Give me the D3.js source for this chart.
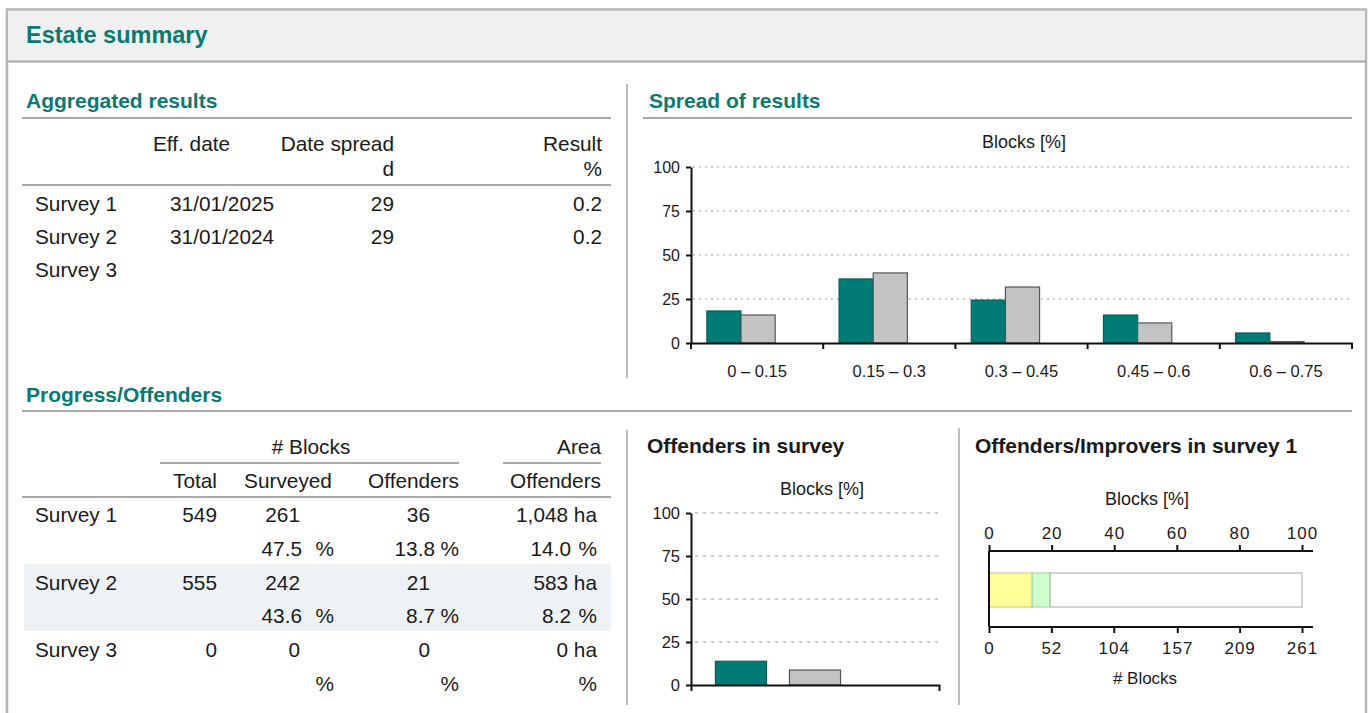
<!DOCTYPE html>
<html>
<head>
<meta charset="utf-8">
<script src="https://cdn.jsdelivr.net/npm/d3@7/dist/d3.min.js"></script>
<style>
  html, body { margin: 0; padding: 0; background: #fff; }
  svg { display: block; font-family: "Liberation Sans", Arial, sans-serif; }
  .body { font-size: 20.8px; fill: #1a1a1a; }
  .sec { font-size: 21px; font-weight: bold; fill: #0a7a70; }
  .ctitle { font-size: 21px; font-weight: bold; fill: #1a1a1a; }
  .axis text { font-family: "Liberation Sans", Arial, sans-serif; fill: #1a1a1a; }
</style>
</head>
<body>
<svg id="chart" width="1370" height="713"></svg>
<script>
// ---------------- DATA ----------------
const surveys = ["Survey 1", "Survey 2", "Survey 3"];
const effDates = ["31/01/2025", "31/01/2024", ""];
const dateSpread = [29, 29, null];
const results = [0.2, 0.2, null];

const spreadCategories = ["0 – 0.15", "0.15 – 0.3", "0.3 – 0.45", "0.45 – 0.6", "0.6 – 0.75"];
const spreadSurvey1 = [18.2, 36.4, 24.4, 15.9, 5.7];
const spreadSurvey2 = [15.9, 39.8, 31.8, 11.4, 0.8];
const spreadSurvey3 = [null, null, null, null, null];
const percentTicks = [0, 25, 50, 75, 100];

const totalBlocks = [549, 555, 0];
const surveyedBlocks = [261, 242, 0];
const surveyedPct = [47.5, 43.6, null];
const offenderBlocks = [36, 21, 0];
const offenderPct = [13.8, 8.7, null];
const offenderAreaHa = [1048, 583, 0];
const offenderAreaPct = [14.0, 8.2, null];

const offendersInSurvey = [13.8, 8.7, 0];

const stackSegments = ["Offenders", "Improvers", "Others"];
const stackBlocks = [36, 15, 210];
const stackTotal = 261;
const topTicks = [0, 20, 40, 60, 80, 100];
const bottomTickLabels = [0, 52, 104, 157, 209, 261];

// ---------------- STYLE ----------------
const TEAL = "#0a7a70";
const BAR_TEAL = "#007b75";
const BAR_GRAY = "#c3c3c3";
const LINE = "#a9a9a9";
const seriesFill = [BAR_TEAL, BAR_GRAY, "#ffffff"];
const stackFill = ["#ffff99", "#ccffcc", "#ffffff"];
const stackStroke = ["#c8c870", "#9ccf9c", "#a8a8a8"];

const svg = d3.select("#chart");

// frame & header
svg.append("rect").attr("x", 7).attr("y", 9.5).attr("width", 1359).attr("height", 720)
  .attr("fill", "#fff").attr("stroke", "#b5b5b5").attr("stroke-width", 2.5);
svg.append("rect").attr("x", 8).attr("y", 11).attr("width", 1357).attr("height", 50).attr("fill", "#f0f0f0");
svg.append("line").attr("x1", 8).attr("x2", 1366).attr("y1", 61.5).attr("y2", 61.5)
  .attr("stroke", "#a5a5a5").attr("stroke-width", 2);
svg.append("text").attr("x", 26).attr("y", 43).attr("fill", TEAL)
  .style("font-size", "23.5px").style("font-weight", "bold").text("Estate summary");

function hline(x1, x2, y) {
  svg.append("line").attr("x1", x1).attr("x2", x2).attr("y1", y).attr("y2", y)
    .attr("stroke", LINE).attr("stroke-width", 2);
}
function vline(x, y1, y2) {
  svg.append("line").attr("x1", x).attr("x2", x).attr("y1", y1).attr("y2", y2)
    .attr("stroke", "#bdbdbd").attr("stroke-width", 2);
}
function txt(x, y, s, anchor, cls) {
  return svg.append("text").attr("x", x).attr("y", y).attr("class", cls || "body")
    .attr("text-anchor", anchor || "start").text(s);
}

// ---------------- Aggregated results ----------------
txt(26, 108, "Aggregated results", "start", "sec");
hline(22, 611, 118);
txt(153, 151, "Eff. date");
txt(394, 151, "Date spread", "end");
txt(602, 151, "Result", "end");
txt(394, 176, "d", "end");
txt(602, 176, "%", "end");
hline(22, 611, 185);
const aggRowY = [211, 244, 277];
surveys.forEach((s, i) => {
  txt(35, aggRowY[i], s);
  if (effDates[i]) txt(170, aggRowY[i], effDates[i]);
  if (dateSpread[i] != null) txt(394, aggRowY[i], dateSpread[i], "end");
  if (results[i] != null) txt(602, aggRowY[i], d3.format(".1f")(results[i]), "end");
});
vline(627, 84, 378);

// ---------------- Spread of results ----------------
txt(649, 108, "Spread of results", "start", "sec");
hline(643, 1352, 118);
{
  const x0 = d3.scaleBand().domain(spreadCategories).range([691, 1352]);
  const bw = x0.bandwidth();
  const x1 = d3.scaleBand().domain(surveys).range([bw * 0.12, bw * 0.895]);
  const y = d3.scaleLinear().domain([0, 100]).range([343, 167]);
  const g = svg.append("g");
  svg.append("text").attr("x", 1024).attr("y", 148).attr("text-anchor", "middle")
    .style("font-size", "18px").attr("fill", "#1a1a1a").text("Blocks [%]");
  // gridlines
  g.selectAll(".grid").data(percentTicks.filter(d => d > 0)).enter().append("line")
    .attr("x1", 693).attr("x2", 1352).attr("y1", d => y(d)).attr("y2", d => y(d))
    .attr("stroke", "#9a9a9a").attr("stroke-width", 1.2).attr("stroke-dasharray", "2,4");
  // bars
  const series = [spreadSurvey1, spreadSurvey2, spreadSurvey3];
  series.forEach((vals, si) => {
    g.selectAll(".b" + si).data(vals.map((v, ci) => ({ v, c: spreadCategories[ci] })).filter(d => d.v != null))
      .enter().append("rect")
      .attr("x", d => x0(d.c) + x1(surveys[si]))
      .attr("width", x1.bandwidth())
      .attr("y", d => y(d.v))
      .attr("height", d => y(0) - y(d.v))
      .attr("fill", seriesFill[si])
      .attr("stroke", si === 0 ? "#0b5e58" : "#555").attr("stroke-width", 1.2);
  });
  // y axis
  const ya = g.append("g").attr("class", "axis").attr("transform", "translate(691,0)")
    .call(d3.axisLeft(y).tickValues(percentTicks).tickSize(5).tickSizeOuter(0).tickPadding(6));
  ya.selectAll("text").style("font-size", "16px");
  ya.selectAll("line,path").attr("stroke", "#111").attr("stroke-width", 2);
  // x axis
  const xa = g.append("g").attr("class", "axis").attr("transform", "translate(0,343)")
    .call(d3.axisBottom(x0).tickSize(0).tickSizeOuter(0).tickPadding(22));
  xa.selectAll("text").style("font-size", "16.5px");
  xa.select("path").attr("stroke", "#111").attr("stroke-width", 2);
  const bounds = spreadCategories.map(c => x0(c)).concat([x0.range()[1]]);
  g.selectAll(".xt").data(bounds).enter().append("line")
    .attr("x1", d => d).attr("x2", d => d).attr("y1", 343).attr("y2", 349)
    .attr("stroke", "#111").attr("stroke-width", 2);
}

// ---------------- Progress/Offenders ----------------
txt(26, 402, "Progress/Offenders", "start", "sec");
hline(22, 1352, 411);
txt(311, 454, "# Blocks", "middle");
hline(160, 459, 463);
txt(601, 454, "Area", "end");
hline(503, 601, 463);
txt(217, 488, "Total", "end");
txt(288, 488, "Surveyed", "middle");
txt(459, 488, "Offenders", "end");
txt(601, 488, "Offenders", "end");
hline(22, 611, 497);
svg.insert("rect", "text").attr("x", 24).attr("y", 564).attr("width", 587).attr("height", 67).attr("fill", "#eef2f5");
const rowY = [522, 590, 657];
const pctY = [556, 623, 691];
const f1 = d3.format(".1f");
surveys.forEach((s, i) => {
  txt(35, rowY[i], s);
  txt(217, rowY[i], totalBlocks[i], "end");
  txt(300, rowY[i], surveyedBlocks[i], "end");
  txt(430, rowY[i], offenderBlocks[i], "end");
  txt(597, rowY[i], d3.format(",")(offenderAreaHa[i]) + " ha", "end");
  if (surveyedPct[i] != null) txt(302, pctY[i], f1(surveyedPct[i]), "end");
  txt(334, pctY[i], "%", "end");
  if (offenderPct[i] != null) txt(435, pctY[i], f1(offenderPct[i]), "end");
  txt(459, pctY[i], "%", "end");
  if (offenderAreaPct[i] != null) txt(571, pctY[i], f1(offenderAreaPct[i]), "end");
  txt(597, pctY[i], "%", "end");
});
vline(627, 430, 705);
vline(959, 428, 705);

// ---------------- Offenders in survey ----------------
txt(647, 453, "Offenders in survey", "start", "ctitle");
{
  const y = d3.scaleLinear().domain([0, 100]).range([685, 513]);
  const x = d3.scaleBand().domain(surveys).range([691, 939]).paddingInner(0.31).paddingOuter(0.33);
  const g = svg.append("g");
  svg.append("text").attr("x", 822).attr("y", 495).attr("text-anchor", "middle")
    .style("font-size", "18px").attr("fill", "#1a1a1a").text("Blocks [%]");
  g.selectAll(".grid").data(percentTicks.filter(d => d > 0)).enter().append("line")
    .attr("x1", 695).attr("x2", 939).attr("y1", d => y(d)).attr("y2", d => y(d))
    .attr("stroke", "#9a9a9a").attr("stroke-width", 1.2).attr("stroke-dasharray", "3,5");
  g.selectAll(".bar").data(offendersInSurvey.map((v, i) => ({ v, s: surveys[i] })).filter(d => d.v > 0))
    .enter().append("rect")
    .attr("x", d => x(d.s)).attr("width", x.bandwidth())
    .attr("y", d => y(d.v)).attr("height", d => y(0) - y(d.v))
    .attr("fill", (d, i) => seriesFill[i])
    .attr("stroke", (d, i) => i === 0 ? "#0b5e58" : "#555").attr("stroke-width", 1.2);
  const ya = g.append("g").attr("class", "axis").attr("transform", "translate(691,0)")
    .call(d3.axisLeft(y).tickValues(percentTicks).tickSize(5).tickSizeOuter(0).tickPadding(6));
  ya.selectAll("text").style("font-size", "16.5px");
  ya.selectAll("line,path").attr("stroke", "#111").attr("stroke-width", 2);
  const xa = g.append("g").attr("class", "axis").attr("transform", "translate(0,685)")
    .call(d3.axisBottom(x).tickValues([]).tickSizeOuter(6));
  xa.select("path").attr("stroke", "#111").attr("stroke-width", 2);
}

// ---------------- Offenders/Improvers in survey 1 ----------------
txt(975, 453, "Offenders/Improvers in survey 1", "start", "ctitle");
{
  const xp = d3.scaleLinear().domain([0, 100]).range([989, 1302]);
  const xb = d3.scaleLinear().domain([0, stackTotal]).range([989, 1302]);
  const g = svg.append("g");
  svg.append("text").attr("x", 1147).attr("y", 505).attr("text-anchor", "middle")
    .style("font-size", "18px").attr("fill", "#1a1a1a").text("Blocks [%]");
  // stacked bar
  let acc = 0;
  const segs = stackBlocks.map((v, i) => { const s = { i, x0: acc, x1: acc + v }; acc += v; return s; });
  g.selectAll(".seg").data(segs).enter().append("rect")
    .attr("x", d => xb(d.x0)).attr("width", d => xb(d.x1) - xb(d.x0))
    .attr("y", 573).attr("height", 34)
    .attr("fill", d => stackFill[d.i]).attr("stroke", d => stackStroke[d.i]).attr("stroke-width", 1);
  // top axis
  const ta = g.append("g").attr("class", "axis").attr("transform", "translate(0,551)")
    .call(d3.axisTop(xp).tickValues(topTicks).tickSize(6).tickSizeOuter(0).tickPadding(6));
  ta.selectAll("text").style("font-size", "17px").style("letter-spacing", "1px");
  ta.selectAll("line").attr("stroke", "#111").attr("stroke-width", 2);
  ta.select("path").remove();
  // bottom axis
  const ba = g.append("g").attr("class", "axis").attr("transform", "translate(0,627)")
    .call(d3.axisBottom(xb).tickValues(bottomTickLabels).tickSize(6).tickSizeOuter(0).tickPadding(9));
  ba.selectAll("text").style("font-size", "17px").style("letter-spacing", "1px");
  ba.selectAll("line").attr("stroke", "#111").attr("stroke-width", 2);
  ba.select("path").remove();
  // frame lines
  g.append("line").attr("x1", 989).attr("x2", 1313).attr("y1", 551).attr("y2", 551).attr("stroke", "#111").attr("stroke-width", 2);
  g.append("line").attr("x1", 989).attr("x2", 1313).attr("y1", 627).attr("y2", 627).attr("stroke", "#111").attr("stroke-width", 2);
  g.append("line").attr("x1", 989).attr("x2", 989).attr("y1", 551).attr("y2", 627).attr("stroke", "#111").attr("stroke-width", 2);
  svg.append("text").attr("x", 1145).attr("y", 684).attr("text-anchor", "middle")
    .style("font-size", "17px").attr("fill", "#1a1a1a").text("# Blocks");
}
</script>
</body>
</html>
